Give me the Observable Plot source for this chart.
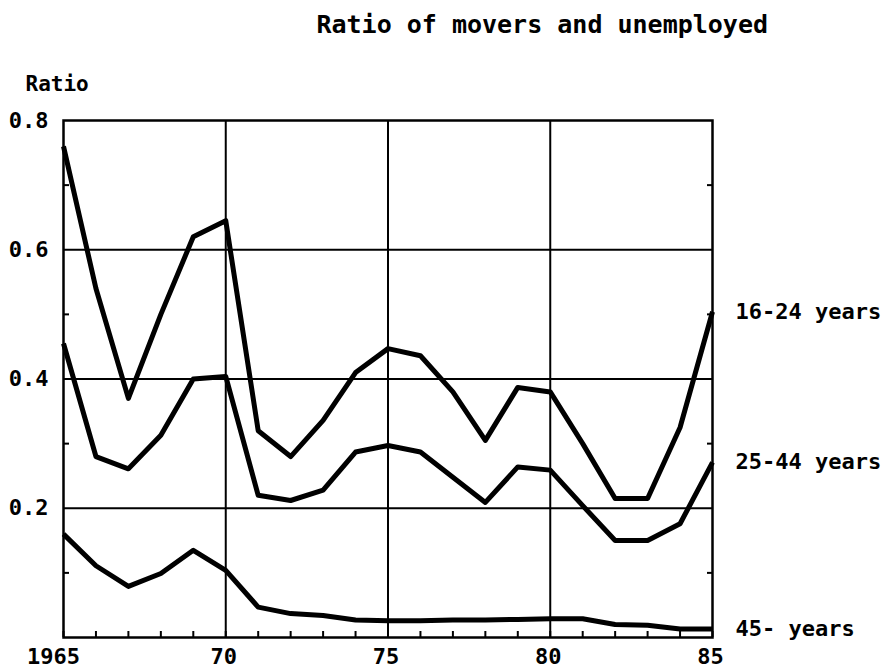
<!DOCTYPE html>
<html><head><meta charset="utf-8">
<script src="https://cdn.jsdelivr.net/npm/d3@7"></script>
<script src="https://cdn.jsdelivr.net/npm/@observablehq/plot@0.6"></script>
<style>
body{margin:0;background:#fff;}
#title{position:relative;height:77px;width:887px;font-family:"DejaVu Sans Mono",monospace;font-size:25px;line-height:25px;color:#000;font-weight:bold;}
#title span{position:absolute;right:119px;top:12px;white-space:nowrap;}
</style>
</head><body>
<div id="title"><span>Ratio of movers and unemployed</span></div>
<div id="chart"></div>
<script>
const years = [1965,1966,1967,1968,1969,1970,1971,1972,1973,1974,1975,1976,1977,1978,1979,1980,1981,1982,1983,1984,1985];
const y16_24 = [0.76,0.54,0.37,0.50,0.62,0.645,0.32,0.28,0.336,0.41,0.447,0.436,0.38,0.305,0.387,0.38,0.30,0.215,0.215,0.325,0.504];
const y25_44 = [0.455,0.28,0.261,0.313,0.40,0.404,0.22,0.212,0.228,0.287,0.297,0.287,0.248,0.209,0.264,0.259,0.204,0.15,0.15,0.176,0.271];
const y45 = [0.16,0.111,0.079,0.099,0.135,0.104,0.047,0.037,0.034,0.027,0.026,0.026,0.027,0.027,0.028,0.029,0.029,0.02,0.019,0.013,0.013];
const seriesNames = ["16-24 years","25-44 years","45- years"];
const xTicks = [1965,1970,1975,1980,1985];
const xTickLabels = ["1965","70","75","80","85"];
const yTicks = [0.2,0.4,0.6,0.8];
const yTickLabels = ["0.2","0.4","0.6","0.8"];
const yMinor = [0.1,0.3,0.5,0.7];
const gridX = [1970,1975,1980];
const gridY = [0.2,0.4,0.6];

const seriesValues = [y16_24, y25_44, y45];
const rows = [];
seriesValues.forEach((vals, s) => vals.forEach((v, i) => rows.push({series: seriesNames[s], year: years[i], value: v})));
const lastRows = seriesNames.map((n, s) => ({series: n, year: years[years.length-1], value: seriesValues[s][years.length-1]}));
const fmtX = d => xTickLabels[xTicks.indexOf(d)];

const chart = Plot.plot({
  width: 887,
  height: 595,
  marginTop: 43,
  marginBottom: 35,
  marginLeft: 63,
  marginRight: 175,
  style: {fontFamily: "DejaVu Sans Mono, monospace", fontSize: "22px", fontWeight: "bold", color: "#000", background: "#fff", overflow: "visible"},
  x: {domain: [1965, 1985]},
  y: {domain: [0, 0.8]},
  marks: [
    Plot.ruleY(gridY, {stroke: "#000", strokeWidth: 2}),
    Plot.ruleX(gridX, {stroke: "#000", strokeWidth: 2}),
    Plot.frame({stroke: "#000", strokeWidth: 2.5}),
    Plot.axisY(yTicks, {tickSize: 0, tickPadding: 15, tickFormat: d => yTickLabels[yTicks.indexOf(d)], label: null, fontSize: 22}),
    Plot.axisY(yMinor, {anchor: "left", tickSize: -6, strokeWidth: 2, tickFormat: () => "", label: null}),
    Plot.axisY(yMinor, {anchor: "right", tickSize: -6, strokeWidth: 2, tickFormat: () => "", label: null}),
    Plot.axisX(years, {anchor: "bottom", tickSize: -6, strokeWidth: 2, tickFormat: () => "", label: null}),
    Plot.axisX(xTicks.slice(0, 1), {anchor: "bottom", tickSize: 0, tickPadding: 11, dx: -10, tickFormat: fmtX, label: null, fontSize: 22}),
    Plot.axisX(xTicks.slice(1), {anchor: "bottom", tickSize: 0, tickPadding: 11, dx: -2, tickFormat: fmtX, label: null, fontSize: 22}),
    Plot.line(rows, {x: "year", y: "value", z: "series", stroke: "#000", strokeWidth: 5, strokeLinejoin: "round", strokeLinecap: "butt"}),
    Plot.text(lastRows, {x: "year", y: "value", text: "series", textAnchor: "start", dx: 23, fontSize: 22, fill: "#000"}),
    Plot.text(["Ratio"], {text: d => d, frameAnchor: "top-left", dx: -38, dy: -44, textAnchor: "start", lineAnchor: "top", fontSize: 21, fill: "#000"})
  ]
});
document.getElementById("chart").appendChild(chart);
</script>
</body></html>
